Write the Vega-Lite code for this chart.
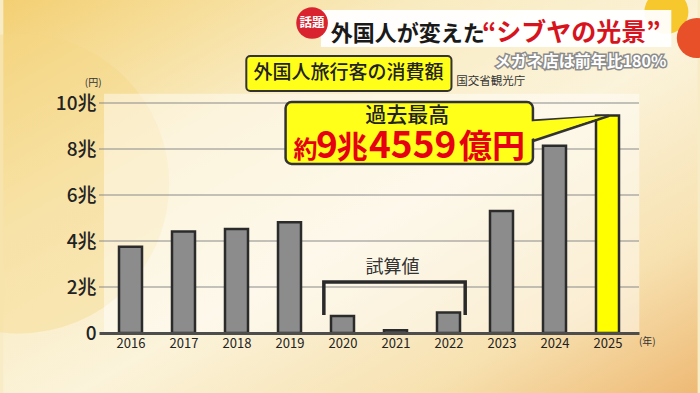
{
  "$schema": "https://vega.github.io/schema/vega-lite/v6.json",
  "width": 540,
  "height": 230,
  "autosize": {"type": "none"},
  "padding": {"left": 99, "right": 61, "top": 103, "bottom": 60},
  "background": "#f8ecc6",
  "config": {
    "view": {"stroke": null},
    "font": "Noto Sans CJK JP",
    "text": {"font": "Noto Sans CJK JP"}
  },
  "layer": [
    {
      "data": {"values": [{"x": 2013.6, "x2": 2026.7, "y": -2.7, "y2": 14.6}]},
      "mark": {"type": "rect", "fill": {"gradient": "linear", "x1": 0, "y1": 0, "x2": 1, "y2": 1, "stops": [{"offset": 0, "color": "#f3cf72"}, {"offset": 0.3, "color": "#f9ebc0"}, {"offset": 0.55, "color": "#fbf3da"}, {"offset": 0.8, "color": "#f7e1b0"}, {"offset": 1, "color": "#eeb974"}]}},
      "encoding": {"x": {"field": "x", "type": "quantitative"}, "x2": {"field": "x2"}, "y": {"field": "y", "type": "quantitative"}, "y2": {"field": "y2"}}
    },
    {
      "data": {"values": [{"x": 2013.9, "y": 6.5}]},
      "mark": {"type": "point", "filled": true, "size": 90000, "color": "#f4d684", "opacity": 0.4},
      "encoding": {"x": {"field": "x", "type": "quantitative"}, "y": {"field": "y", "type": "quantitative"}}
    },
    {
      "data": {"values": [{"x": 2015.5, "x2": 2025.6, "y": 0, "y2": 10.4}]},
      "mark": {"type": "rect", "fill": "#ffffff", "opacity": 0.45},
      "encoding": {"x": {"field": "x", "type": "quantitative"}, "x2": {"field": "x2"}, "y": {"field": "y", "type": "quantitative"}, "y2": {"field": "y2"}}
    },
    {
      "data": {"values": [{"g": 2}, {"g": 4}, {"g": 6}, {"g": 8}, {"g": 10}]},
      "mark": {"type": "rule", "stroke": "#8a8a8a", "strokeWidth": 1.2},
      "encoding": {"y": {"field": "g", "type": "quantitative"}}
    },
    {
      "data": {"values": [
        {"year": 2016, "value": 3.7476},
        {"year": 2017, "value": 4.4162},
        {"year": 2018, "value": 4.5189},
        {"year": 2019, "value": 4.8135},
        {"year": 2020, "value": 0.74},
        {"year": 2021, "value": 0.12},
        {"year": 2022, "value": 0.89},
        {"year": 2023, "value": 5.3065},
        {"year": 2024, "value": 8.1395},
        {"year": 2025, "value": 9.4559}
      ]},
      "mark": {"type": "bar", "size": 23, "stroke": "#2b2b2b", "strokeWidth": 2.5},
      "encoding": {
        "x": {"field": "year", "type": "quantitative", "scale": {"domain": [2015.5, 2025.5], "nice": false, "zero": false}, "axis": {"values": [2016, 2017, 2018, 2019, 2020, 2021, 2022, 2023, 2024, 2025], "format": "d", "title": null, "zindex": 1, "labelFont": "Noto Sans CJK JP", "labelFontSize": 13, "labelColor": "#222222", "ticks": false, "grid": false, "domain": true, "domainColor": "#4d4d4d", "domainWidth": 3, "labelPadding": 4}},
        "y": {"field": "value", "type": "quantitative", "scale": {"domain": [0, 10], "nice": false, "zero": false}, "axis": {"values": [0, 2, 4, 6, 8, 10], "labelExpr": "datum.value == 0 ? '0' : datum.value + '兆'", "title": null, "zindex": 1, "labelFont": "Noto Sans CJK JP", "labelFontSize": 19, "labelFontWeight": 500, "labelColor": "#222222", "ticks": false, "grid": false, "domain": false, "labelPadding": 3}},
        "color": {"condition": {"test": "datum.year == 2025", "value": "#ffff00"}, "value": "#8c8c8c"}
      }
    },
    {
      "data": {"values": [{"x": 2019.648, "y": 0.78, "o": 1}, {"x": 2019.648, "y": 2.22, "o": 2}, {"x": 2022.315, "y": 2.22, "o": 3}, {"x": 2022.315, "y": 0.78, "o": 4}]},
      "mark": {"type": "line", "stroke": "#2a2a2a", "strokeWidth": 3.5, "strokeJoin": "miter"},
      "encoding": {"x": {"field": "x", "type": "quantitative"}, "y": {"field": "y", "type": "quantitative"}, "order": {"field": "o"}}
    },
    {
      "data": {"values": [{"x": 2020.944, "y": 2.83, "t": "試算値"}]},
      "mark": {"type": "text", "fontSize": 18, "color": "#333333", "align": "center", "baseline": "middle"},
      "encoding": {"x": {"field": "x", "type": "quantitative"}, "y": {"field": "y", "type": "quantitative"}, "text": {"field": "t"}}
    },
    {
      "data": {"values": [{"x": 2023.48, "y": 9.217, "y2": 8.261}, {"x": 2025.02, "y": 9.435, "y2": 9.435}]},
      "mark": {"type": "area", "fill": "#ffff1a", "stroke": "#333333", "strokeWidth": 2.5, "strokeJoin": "round"},
      "encoding": {"x": {"field": "x", "type": "quantitative"}, "y": {"field": "y", "type": "quantitative"}, "y2": {"field": "y2"}}
    },
    {
      "data": {"values": [{"x": 2018.926, "x2": 2023.593, "y": 10.043, "y2": 7.348}]},
      "mark": {"type": "rect", "fill": "#ffff1a", "stroke": "#333333", "strokeWidth": 2.5, "cornerRadius": 6},
      "encoding": {"x": {"field": "x", "type": "quantitative"}, "x2": {"field": "x2"}, "y": {"field": "y", "type": "quantitative"}, "y2": {"field": "y2"}}
    },
    {
      "data": {"values": [{"x": 2023.4, "y": 9.17, "y2": 8.31}, {"x": 2024.95, "y": 9.43, "y2": 9.43}]},
      "mark": {"type": "area", "fill": "#ffff1a"},
      "encoding": {"x": {"field": "x", "type": "quantitative"}, "y": {"field": "y", "type": "quantitative"}, "y2": {"field": "y2"}}
    },
    {
      "data": {"values": [{"x": 2021.222, "y": 9.45, "t": "過去最高"}]},
      "mark": {"type": "text", "fontSize": 21, "color": "#222222", "align": "center", "baseline": "middle", "fontWeight": 500},
      "encoding": {"x": {"field": "x", "type": "quantitative"}, "y": {"field": "y", "type": "quantitative"}, "text": {"field": "t"}}
    },
    {
      "data": {"values": [{"x": 2019.074, "y": 7.6, "t": "約"}]},
      "mark": {"type": "text", "fontSize": 24, "color": "#e50012", "align": "left", "baseline": "alphabetic", "fontWeight": "bold"},
      "encoding": {"x": {"field": "x", "type": "quantitative"}, "y": {"field": "y", "type": "quantitative"}, "text": {"field": "t"}}
    },
    {
      "data": {"values": [{"x": 2019.5, "y": 7.6, "t": "9"}, {"x": 2020.5, "y": 7.6, "t": "4559"}]},
      "mark": {"type": "text", "fontSize": 37, "color": "#e50012", "align": "left", "baseline": "alphabetic", "fontWeight": "bold"},
      "encoding": {"x": {"field": "x", "type": "quantitative"}, "y": {"field": "y", "type": "quantitative"}, "text": {"field": "t"}}
    },
    {
      "data": {"values": [{"x": 2019.89, "y": 7.6, "t": "兆"}]},
      "mark": {"type": "text", "fontSize": 31, "color": "#e50012", "align": "left", "baseline": "alphabetic", "fontWeight": "bold"},
      "encoding": {"x": {"field": "x", "type": "quantitative"}, "y": {"field": "y", "type": "quantitative"}, "text": {"field": "t"}}
    },
    {
      "data": {"values": [{"x": 2022.2, "y": 7.6, "t": "億円"}]},
      "mark": {"type": "text", "fontSize": 33, "color": "#e50012", "align": "left", "baseline": "alphabetic", "fontWeight": "bold"},
      "encoding": {"x": {"field": "x", "type": "quantitative"}, "y": {"field": "y", "type": "quantitative"}, "text": {"field": "t"}}
    },
    {
      "data": {"values": [{"x": 2026.111, "y": 13.957}]},
      "mark": {"type": "point", "filled": true, "size": 1936, "color": "#f6c21c", "opacity": 0.9},
      "encoding": {"x": {"field": "x", "type": "quantitative"}, "y": {"field": "y", "type": "quantitative"}}
    },
    {
      "data": {"values": [{"x": 2019.593, "x2": 2026.204, "y": 14.043, "y2": 12.435}]},
      "mark": {"type": "rect", "fill": "#ffffff", "opacity": 0.95},
      "encoding": {"x": {"field": "x", "type": "quantitative"}, "x2": {"field": "x2"}, "y": {"field": "y", "type": "quantitative"}, "y2": {"field": "y2"}}
    },
    {
      "data": {"values": [{"x": 2026.685, "y": 12.826}]},
      "mark": {"type": "point", "filled": true, "size": 1600, "color": "#e8502a", "opacity": 1},
      "encoding": {"x": {"field": "x", "type": "quantitative"}, "y": {"field": "y", "type": "quantitative"}}
    },
    {
      "data": {"values": [{"x": 2019.426, "y": 13.478}]},
      "mark": {"type": "point", "filled": true, "size": 1000, "color": "#d9232e", "opacity": 1},
      "encoding": {"x": {"field": "x", "type": "quantitative"}, "y": {"field": "y", "type": "quantitative"}}
    },
    {
      "data": {"values": [{"x": 2019.426, "y": 13.478, "t": "話題"}]},
      "mark": {"type": "text", "fontSize": 12.5, "color": "#ffffff", "align": "center", "baseline": "middle", "fontWeight": "bold"},
      "encoding": {"x": {"field": "x", "type": "quantitative"}, "y": {"field": "y", "type": "quantitative"}, "text": {"field": "t"}}
    },
    {
      "data": {"values": [{"x": 2019.778, "y": 12.696, "t": "外国人が変えた"}]},
      "mark": {"type": "text", "fontSize": 22, "color": "#1a1a1a", "align": "left", "baseline": "alphabetic", "fontWeight": "bold"},
      "encoding": {"x": {"field": "x", "type": "quantitative"}, "y": {"field": "y", "type": "quantitative"}, "text": {"field": "t"}}
    },
    {
      "data": {"values": [{"x": 2022.63, "y": 12.696, "t": "“シブヤの光景”"}]},
      "mark": {"type": "text", "fontSize": 25, "color": "#d7141e", "align": "left", "baseline": "alphabetic", "fontWeight": "bold"},
      "encoding": {"x": {"field": "x", "type": "quantitative"}, "y": {"field": "y", "type": "quantitative"}, "text": {"field": "t"}}
    },
    {
      "data": {"values": [{"x": 2026.111, "y": 11.565, "t": "メガネ店は前年比180%"}]},
      "mark": {"type": "text", "fontSize": 16, "color": "#8c8c8c", "stroke": "#8c8c8c", "strokeWidth": 3, "align": "right", "baseline": "alphabetic", "fontWeight": "bold"},
      "encoding": {"x": {"field": "x", "type": "quantitative"}, "y": {"field": "y", "type": "quantitative"}, "text": {"field": "t"}}
    },
    {
      "data": {"values": [{"x": 2026.111, "y": 11.565, "t": "メガネ店は前年比180%"}]},
      "mark": {"type": "text", "fontSize": 16, "color": "#ffffff", "align": "right", "baseline": "alphabetic", "fontWeight": "bold"},
      "encoding": {"x": {"field": "x", "type": "quantitative"}, "y": {"field": "y", "type": "quantitative"}, "text": {"field": "t"}}
    },
    {
      "data": {"values": [{"x": 2018.185, "x2": 2022.056, "y": 12.043, "y2": 10.522}]},
      "mark": {"type": "rect", "fill": "#ffff1a", "stroke": "#333333", "strokeWidth": 2, "cornerRadius": 4},
      "encoding": {"x": {"field": "x", "type": "quantitative"}, "x2": {"field": "x2"}, "y": {"field": "y", "type": "quantitative"}, "y2": {"field": "y2"}}
    },
    {
      "data": {"values": [{"x": 2020.111, "y": 11.304, "t": "外国人旅行客の消費額"}]},
      "mark": {"type": "text", "fontSize": 19, "color": "#222222", "align": "center", "baseline": "middle", "fontWeight": 500},
      "encoding": {"x": {"field": "x", "type": "quantitative"}, "y": {"field": "y", "type": "quantitative"}, "text": {"field": "t"}}
    },
    {
      "data": {"values": [{"x": 2022.148, "y": 10.913, "t": "国交省観光庁"}]},
      "mark": {"type": "text", "fontSize": 11.5, "color": "#333333", "align": "left", "baseline": "middle"},
      "encoding": {"x": {"field": "x", "type": "quantitative"}, "y": {"field": "y", "type": "quantitative"}, "text": {"field": "t"}}
    },
    {
      "data": {"values": [{"x": 2015.296, "y": 10.86, "t": "(円)"}, {"x": 2025.75, "y": -0.391, "t": "(年)"}]},
      "mark": {"type": "text", "fontSize": 10, "color": "#333333", "align": "center", "baseline": "middle"},
      "encoding": {"x": {"field": "x", "type": "quantitative"}, "y": {"field": "y", "type": "quantitative"}, "text": {"field": "t"}}
    }
  ]
}
